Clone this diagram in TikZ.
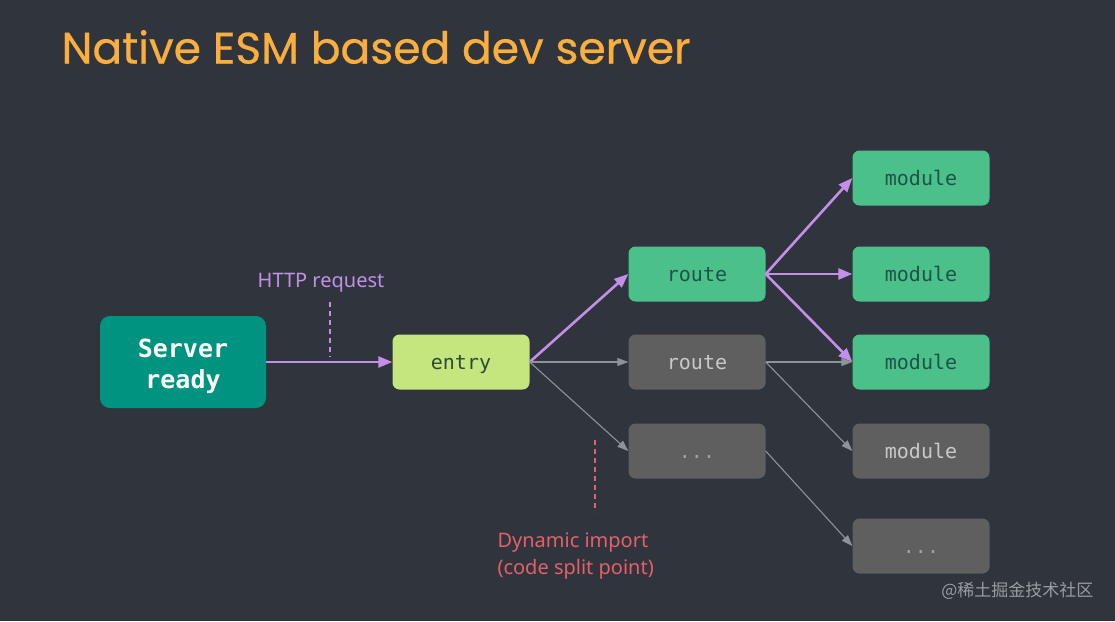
\documentclass[tikz,border=0pt]{standalone}
\usepackage{fontspec}
\setmonofont{DejaVu Sans Mono}
\newfontfamily\titlefont[FakeBold=0.6]{Poppins}
\newfontfamily\labelfont{Noto Sans}
\newfontfamily\cjkfont{Noto Sans CJK SC}
\usetikzlibrary{arrows.meta, positioning}

\definecolor{bgdark}{HTML}{30343C}
\definecolor{titleorange}{HTML}{F9AE3F}
\definecolor{serverteal}{HTML}{00937F}
\definecolor{entrylime}{HTML}{C5E57E}
\definecolor{modgreen}{HTML}{4BC08A}
\definecolor{boxgray}{HTML}{5F5F5F}
\definecolor{reqpurple}{HTML}{C48FE8}
\definecolor{linegray}{HTML}{8E939B}
\definecolor{splitred}{HTML}{E4606A}
\definecolor{greentext}{HTML}{1D5446}
\definecolor{limetext}{HTML}{2E4A35}
\definecolor{graytext}{HTML}{C9C9C9}

\tikzset{
    box/.style={rounded corners=7pt, minimum width=137pt, minimum height=55pt,
        inner sep=0pt, text height=14pt, text depth=0pt,
        font=\ttfamily\fontsize{20}{22}\selectfont},
    greenbox/.style={box, fill=modgreen, text=greentext},
    graybox/.style={box, fill=boxgray, text=graytext},
    dotsbox/.style={graybox, text=graytext!60!boxgray},
    hotarrow/.style={draw=reqpurple, line width=2.6pt,
        -{Triangle[length=14pt,width=11pt]}},
    coldarrow/.style={draw=linegray, line width=1.1pt,
        -{Triangle[length=11pt,width=8pt]}},
}

\begin{document}
\begin{tikzpicture}[x=1pt, y=-1pt]

    % Background
    \fill[bgdark] (0,0) rectangle (1115,621);
    \useasboundingbox (0,0) rectangle (1115,621);

    % Title
    \node[anchor=west, text=titleorange, font=\titlefont\fontsize{44}{48}\selectfont]
        (title) at (58,47) {Native ESM based dev server};

    % Server ready
    \node[box, minimum width=166pt, minimum height=92pt, rounded corners=10pt,
        fill=serverteal] (server) at (183,362) {};
    \node[text=white, align=center, yshift=-4pt,
        font=\ttfamily\bfseries\fontsize{25}{31}\selectfont]
        (serverText) at (server.center) {Server\\ready};

    % Entry
    \node[box, fill=entrylime, text=limetext] (entry) at (461,362) {entry};

    % Routes
    \node[greenbox] (routeA) at (697,274) {route};
    \node[graybox] (routeB) at (697,362) {route};
    \node[dotsbox] (dotsA) at (697,451) {...};

    % Modules
    \node[greenbox] (modA) at (921,178) {module};
    \node[greenbox] (modB) at (921,274) {module};
    \node[greenbox] (modC) at (921,362) {module};
    \node[graybox] (modD) at (921,451) {module};
    \node[dotsbox] (dotsB) at (921,546) {...};

    % ================================
    % Arrows

    \draw[hotarrow] (server.east) -- (entry.west);
    \draw[hotarrow] (entry.east) -- (routeA.west);
    \draw[coldarrow] (entry.east) -- (routeB.west);
    \draw[coldarrow] (entry.east) -- (dotsA.west);

    \draw[hotarrow] (routeA.east) -- (modA.west);
    \draw[hotarrow] (routeA.east) -- (modB.west);
    \draw[hotarrow] (routeA.east) -- (modC.west);

    \draw[coldarrow] (routeB.east) -- (modC.west);
    \draw[coldarrow] (routeB.east) -- (modD.west);
    \draw[coldarrow] (dotsA.east) -- (dotsB.west);

    % ================================
    % Labels

    \node[text=reqpurple, font=\labelfont\fontsize{20}{24}\selectfont]
        (http) at (321,283) {HTTP request};
    \coordinate (httpTop) at (330,302);
    \coordinate (httpBot) at (330,357);
    \draw[reqpurple, line width=1.2pt, dash pattern=on 5pt off 4pt] (httpTop) -- (httpBot);

    \node[anchor=north west, text=splitred, align=left,
        font=\labelfont\fontsize{20}{27}\selectfont]
        (split) at (494,529) {Dynamic import\\(code split point)};
    \coordinate (splitTop) at (595,440);
    \coordinate (splitBot) at (595,512);
    \draw[splitred, line width=1.2pt, dash pattern=on 5pt off 4pt] (splitTop) -- (splitBot);

    % Watermark
    \node[anchor=east, text=graytext!70!bgdark, font=\cjkfont\fontsize{17}{20}\selectfont]
        (mark) at (1097,591) {@稀土掘金技术社区};

\end{tikzpicture}
\end{document}
